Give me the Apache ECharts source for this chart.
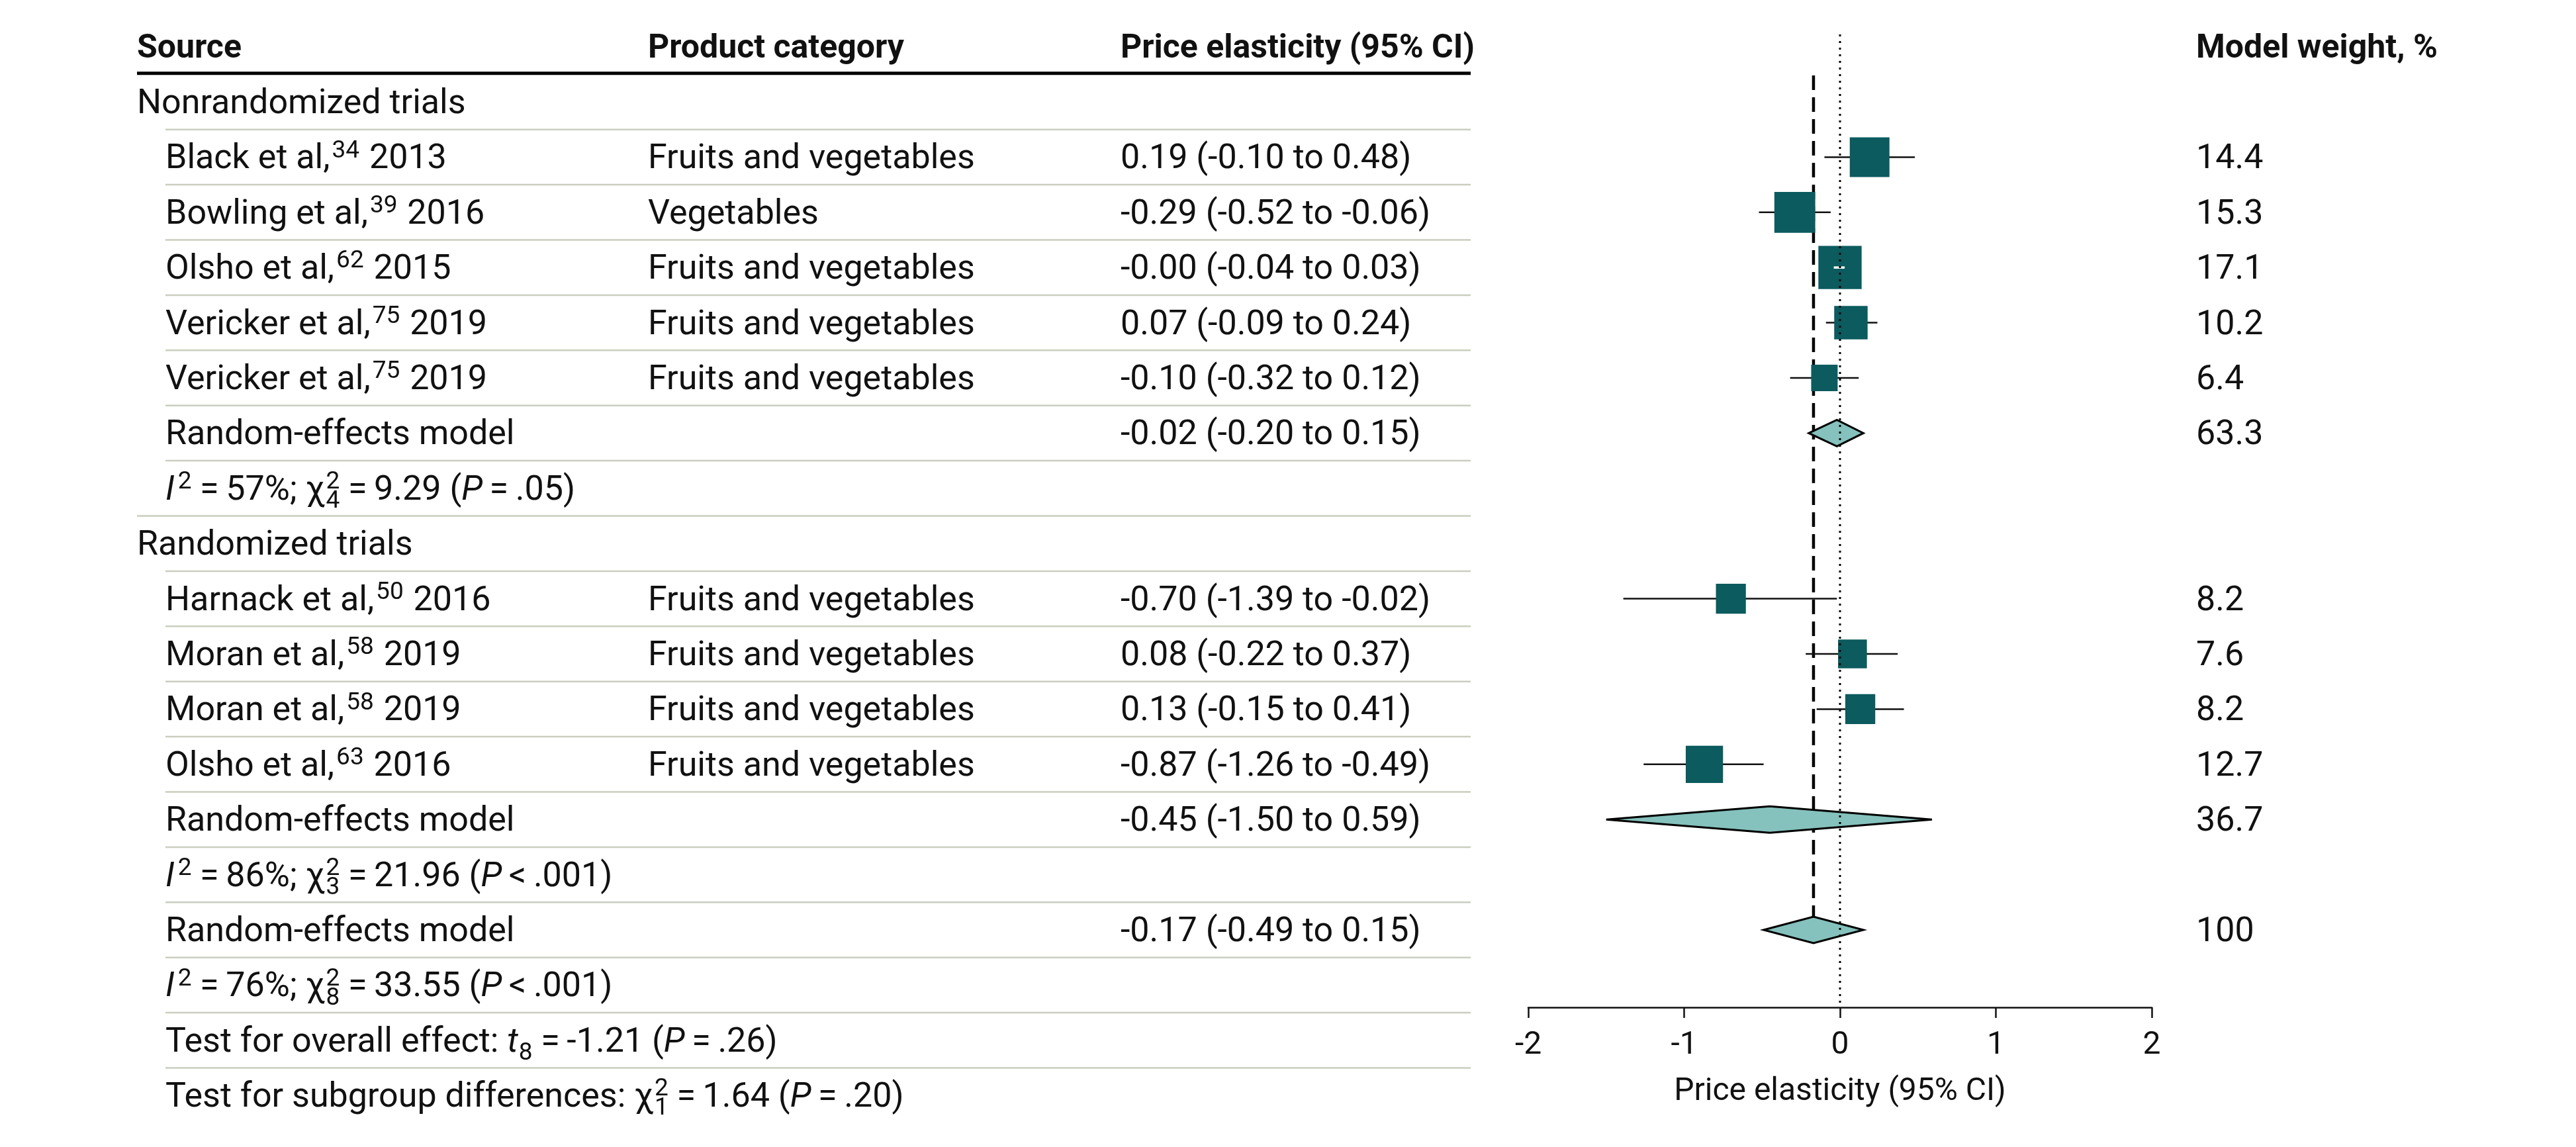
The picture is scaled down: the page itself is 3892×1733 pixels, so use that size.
<!DOCTYPE html>
<html>
<head>
<meta charset="utf-8">
<script src="https://cdn.jsdelivr.net/npm/echarts@6/dist/echarts.min.js"></script>
<style>
  html, body { margin: 0; padding: 0; background: #fff; }
  #chartMain { width: 3892px; height: 1733px; }
</style>
</head>
<body>
<div id="chartMain"></div>
<script>
// ---- data ----
const studyAuthors = ['Black et al,', 'Bowling et al,', 'Olsho et al,', 'Vericker et al,', 'Vericker et al,',
                      'Harnack et al,', 'Moran et al,', 'Moran et al,', 'Olsho et al,'];
const studyRefs = ['34', '39', '62', '75', '75', '50', '58', '58', '63'];
const studyYears = ['2013', '2016', '2015', '2019', '2019', '2016', '2019', '2019', '2016'];
const studyCategories = ['Fruits and vegetables', 'Vegetables', 'Fruits and vegetables', 'Fruits and vegetables',
                         'Fruits and vegetables', 'Fruits and vegetables', 'Fruits and vegetables',
                         'Fruits and vegetables', 'Fruits and vegetables'];
const studyEst = [0.19, -0.29, -0.00, 0.07, -0.10, -0.70, 0.08, 0.13, -0.87];
const studyLow = [-0.10, -0.52, -0.04, -0.09, -0.32, -1.39, -0.22, -0.15, -1.26];
const studyHigh = [0.48, -0.06, 0.03, 0.24, 0.12, -0.02, 0.37, 0.41, -0.49];
const studyWeights = [14.4, 15.3, 17.1, 10.2, 6.4, 8.2, 7.6, 8.2, 12.7];
const studyRows = [1, 2, 3, 4, 5, 9, 10, 11, 12];

const groupLabels = ['Nonrandomized trials', 'Randomized trials'];
const groupRows = [0, 8];

const pooledLabels = ['Random-effects model', 'Random-effects model', 'Random-effects model'];
const pooledEst = [-0.02, -0.45, -0.17];
const pooledLow = [-0.20, -1.50, -0.49];
const pooledHigh = [0.15, 0.59, 0.15];
const pooledWeights = [63.3, 36.7, 100];
const pooledRows = [6, 13, 15];

const hetI2 = ['57%', '86%', '76%'];
const hetDf = ['4', '3', '8'];
const hetChi2 = ['9.29', '21.96', '33.55'];
const hetP = ['= .05', '< .001', '< .001'];
const hetRows = [7, 14, 16];

const overallTest = {df: '8', t: '-1.21', p: '= .26', row: 17};
const subgroupTest = {df: '1', chi2: '1.64', p: '= .20', row: 18};

const headers = ['Source', 'Product category', 'Price elasticity (95% CI)', 'Model weight, %'];
const xTicks = [-2, -1, 0, 1, 2];
const xName = 'Price elasticity (95% CI)';

// ---- layout / style ----
const W = 3892, H = 1733;
const ROW0 = 154, ROW_H = 83.4;          // pixel centre of row 0, row pitch
const PLOT_TOP = 52, PLOT_BOTTOM = 1522;
const COL = {source: 207, indent: 250, category: 979, estimate: 1693, tableEnd: 2222, weight: 3318};
const FONT = 'Roboto';
const TEXT_SIZE = 52, HEAD_SIZE = 50, SMALL_SIZE = 37, AXIS_SIZE = 48;
const TEXT_DY = 4, SUP_DY = -13, SUB_DY = 16;
const INK = '#111111';
const SQUARE = '#0c5b5e', DIAMOND = '#85c1bd', RULE = '#c9cebf';
const SQUARE_K = 15.8, DIAMOND_H = 20;

const measureCtx = document.createElement('canvas').getContext('2d');
function textWidth(str, size, italic, bold) {
    measureCtx.font = (italic ? 'italic ' : '') + (bold ? 'bold ' : '') + size + 'px ' + FONT;
    return measureCtx.measureText(str).width;
}
function textEl(text, x, y, size, italic, bold) {
    return {
        type: 'text', x: x, y: y + TEXT_DY,
        style: {
            text: text, fontSize: size, fontFamily: FONT,
            fontStyle: italic ? 'italic' : 'normal', fontWeight: bold ? 'bold' : 'normal',
            fill: INK, align: 'left', verticalAlign: 'middle'
        }
    };
}
// lays out a line of text made of plain, italic, superscript and subscript pieces
function richText(segs, x, y, size, bold) {
    let out = [], cx = x;
    segs.forEach(s => {
        if (s.t != null) {
            out.push(textEl(s.t, cx, y, size, s.it, bold));
            cx += textWidth(s.t, size, s.it, bold);
        } else {
            cx += s.gap || 1;
            let w = 0;
            if (s.sup != null) {
                out.push(textEl(s.sup, cx, y + SUP_DY, SMALL_SIZE));
                w = Math.max(w, textWidth(s.sup, SMALL_SIZE));
            }
            if (s.sub != null) {
                out.push(textEl(s.sub, cx, y + SUB_DY, SMALL_SIZE));
                w = Math.max(w, textWidth(s.sub, SMALL_SIZE));
            }
            cx += w + 2;
        }
    });
    return out;
}
function fmt(v) {
    return ((v < 0 || Object.is(v, -0)) ? '-' : '') + Math.abs(v).toFixed(2);
}
const TH = '\u2009';

// ---- table rows ----
let tableRows = [];
tableRows.push({row: -1, head: true});
groupLabels.forEach((g, i) => tableRows.push({row: groupRows[i], x: COL.source, segs: [{t: g}]}));
studyAuthors.forEach((a, i) => tableRows.push({
    row: studyRows[i], x: COL.indent,
    segs: [{t: a}, {sup: studyRefs[i], gap: 3}, {t: ' ' + studyYears[i]}],
    category: studyCategories[i],
    estimate: fmt(studyEst[i]) + ' (' + fmt(studyLow[i]) + ' to ' + fmt(studyHigh[i]) + ')',
    weight: String(studyWeights[i])
}));
pooledLabels.forEach((p, i) => tableRows.push({
    row: pooledRows[i], x: COL.indent, segs: [{t: p}],
    estimate: fmt(pooledEst[i]) + ' (' + fmt(pooledLow[i]) + ' to ' + fmt(pooledHigh[i]) + ')',
    weight: String(pooledWeights[i])
}));
hetI2.forEach((v, i) => tableRows.push({
    row: hetRows[i], x: COL.indent,
    segs: [{t: 'I', it: true}, {sup: '2', gap: 5}, {t: TH + '=' + TH + v + '; χ'}, {sup: '2', sub: hetDf[i], gap: 2},
           {t: TH + '=' + TH + hetChi2[i] + ' ('}, {t: 'P', it: true}, {t: TH + hetP[i].replace(' ', TH) + ')'}]
}));
tableRows.push({
    row: overallTest.row, x: COL.indent,
    segs: [{t: 'Test for overall effect: '}, {t: 't', it: true}, {sub: overallTest.df, gap: 1},
           {t: TH + '=' + TH + overallTest.t + ' ('}, {t: 'P', it: true}, {t: TH + overallTest.p.replace(' ', TH) + ')'}]
});
tableRows.push({
    row: subgroupTest.row, x: COL.indent,
    segs: [{t: 'Test for subgroup differences: χ'}, {sup: '2', sub: subgroupTest.df, gap: 2},
           {t: TH + '=' + TH + subgroupTest.chi2 + ' ('}, {t: 'P', it: true}, {t: TH + subgroupTest.p.replace(' ', TH) + ')'}]
});

// horizontal rules under each table row (the one closing the first group runs full width)
let rules = [{row: -0.52, x: COL.source, width: 5, color: '#000'}];
for (let r = 0; r <= 17; r++) {
    rules.push({row: r + 0.5, x: r === 7 ? COL.source : COL.indent, width: 2.5, color: RULE});
}

function yRange(topPx, bottomPx) {
    return {min: (topPx - ROW0) / ROW_H, max: (bottomPx - ROW0) / ROW_H};
}
const tableY = yRange(0, H);
const plotY = yRange(PLOT_TOP, PLOT_BOTTOM);

const myChart = echarts.init(document.getElementById('chartMain'), null, {renderer: 'canvas'});

myChart.setOption({
    animation: false,
    backgroundColor: '#fff',
    grid: [
        {left: 0, top: 0, width: W, height: H, outerBoundsMode: 'none'},
        {left: 2309, top: PLOT_TOP, width: 942, height: PLOT_BOTTOM - PLOT_TOP, outerBoundsMode: 'none'}
    ],
    xAxis: [
        {gridIndex: 0, type: 'value', min: 0, max: W, show: false},
        {
            gridIndex: 1, type: 'value', min: -2, max: 2, interval: 1, position: 'bottom',
            axisLine: {show: true, onZero: false, lineStyle: {color: INK, width: 2.5}},
            axisTick: {show: true, length: 16, lineStyle: {color: INK, width: 2.5}},
            axisLabel: {
                fontSize: AXIS_SIZE, fontFamily: FONT, color: INK, margin: 34,
                formatter: v => xTicks.indexOf(v) >= 0 ? String(v) : ''
            },
            splitLine: {show: false},
            name: xName, nameLocation: 'middle', nameGap: 104,
            nameTextStyle: {fontSize: AXIS_SIZE, fontFamily: FONT, color: INK}
        }
    ],
    yAxis: [
        {gridIndex: 0, type: 'value', inverse: true, min: tableY.min, max: tableY.max, show: false},
        {gridIndex: 1, type: 'value', inverse: true, min: plotY.min, max: plotY.max, show: false}
    ],
    series: [
        // table rules
        {
            type: 'custom', xAxisIndex: 0, yAxisIndex: 0, silent: true,
            data: rules.map(r => [r.x, r.row]),
            renderItem: (params, api) => {
                const r = rules[params.dataIndex];
                const a = api.coord([r.x, r.row]), b = api.coord([COL.tableEnd, r.row]);
                return {type: 'line', shape: {x1: a[0], y1: a[1], x2: b[0], y2: b[1]},
                        style: {stroke: r.color, lineWidth: r.width}};
            }
        },
        // table text
        {
            type: 'custom', xAxisIndex: 0, yAxisIndex: 0, silent: true,
            data: tableRows.map(r => [0, r.row]),
            renderItem: (params, api) => {
                const r = tableRows[params.dataIndex];
                const y = api.coord([0, r.row])[1];
                const px = v => api.coord([v, r.row])[0];
                let kids = [];
                if (r.head) {
                    kids.push(textEl(headers[0], px(COL.source), y, HEAD_SIZE, false, true));
                    kids.push(textEl(headers[1], px(COL.category), y, HEAD_SIZE, false, true));
                    kids.push(textEl(headers[2], px(COL.estimate), y, HEAD_SIZE, false, true));
                    kids.push(textEl(headers[3], px(COL.weight), y, HEAD_SIZE, false, true));
                } else {
                    kids = kids.concat(richText(r.segs, px(r.x), y, TEXT_SIZE, false));
                    if (r.category) kids.push(textEl(r.category, px(COL.category), y, TEXT_SIZE));
                    if (r.estimate) kids.push(textEl(r.estimate, px(COL.estimate), y, TEXT_SIZE));
                    if (r.weight) kids.push(textEl(r.weight, px(COL.weight), y, TEXT_SIZE));
                }
                return {type: 'group', children: kids};
            }
        },
        // dashed line at the overall pooled estimate
        {
            type: 'custom', xAxisIndex: 1, yAxisIndex: 1, silent: true,
            data: [[pooledEst[2], pooledRows[2]]],
            renderItem: (params, api) => {
                const top = api.coord([pooledEst[2], -0.48]);
                const bot = api.coord([pooledEst[2], pooledRows[2]]);
                return {type: 'line', shape: {x1: top[0], y1: top[1], x2: bot[0], y2: bot[1] - DIAMOND_H},
                        style: {stroke: '#000', lineWidth: 4.5, lineDash: [22, 11]}};
            }
        },
        // study estimates: CI whiskers + weighted squares
        {
            type: 'custom', xAxisIndex: 1, yAxisIndex: 1, silent: true,
            data: studyEst.map((v, i) => [v, studyRows[i], studyLow[i], studyHigh[i], studyWeights[i]]),
            renderItem: (params, api) => {
                const row = api.value(1);
                const c = api.coord([api.value(0), row]);
                const lo = api.coord([api.value(2), row]), hi = api.coord([api.value(3), row]);
                const s = SQUARE_K * Math.sqrt(api.value(4));
                const inside = lo[0] > c[0] - s / 2 && hi[0] < c[0] + s / 2;
                const kids = [
                    {type: 'line', shape: {x1: lo[0], y1: c[1], x2: hi[0], y2: c[1]},
                     style: {stroke: INK, lineWidth: 2.5}},
                    {type: 'rect', shape: {x: c[0] - s / 2, y: c[1] - s / 2, width: s, height: s},
                     style: {fill: SQUARE}}
                ];
                if (inside) {
                    kids.push({type: 'line', shape: {x1: lo[0], y1: c[1], x2: hi[0], y2: c[1]},
                               style: {stroke: '#fff', lineWidth: 3.5}});
                }
                return {type: 'group', children: kids};
            }
        },
        // pooled diamonds
        {
            type: 'custom', xAxisIndex: 1, yAxisIndex: 1, silent: true,
            data: pooledEst.map((v, i) => [v, pooledRows[i], pooledLow[i], pooledHigh[i]]),
            renderItem: (params, api) => {
                const row = api.value(1);
                const c = api.coord([api.value(0), row]);
                const lo = api.coord([api.value(2), row]), hi = api.coord([api.value(3), row]);
                return {type: 'polygon',
                        shape: {points: [[lo[0], c[1]], [c[0], c[1] - DIAMOND_H], [hi[0], c[1]], [c[0], c[1] + DIAMOND_H]]},
                        style: {fill: DIAMOND, stroke: '#000', lineWidth: 3, lineJoin: 'miter'}};
            }
        },
        // dotted line of no effect
        {
            type: 'custom', xAxisIndex: 1, yAxisIndex: 1, silent: true,
            data: [[0, 0]],
            renderItem: (params, api) => {
                const top = api.coord([0, plotY.min]), bot = api.coord([0, plotY.max]);
                return {type: 'line', shape: {x1: top[0], y1: top[1], x2: bot[0], y2: bot[1]},
                        style: {stroke: '#000', lineWidth: 3, lineDash: [3, 7]}};
            }
        }
    ]
});
</script>
</body>
</html>
